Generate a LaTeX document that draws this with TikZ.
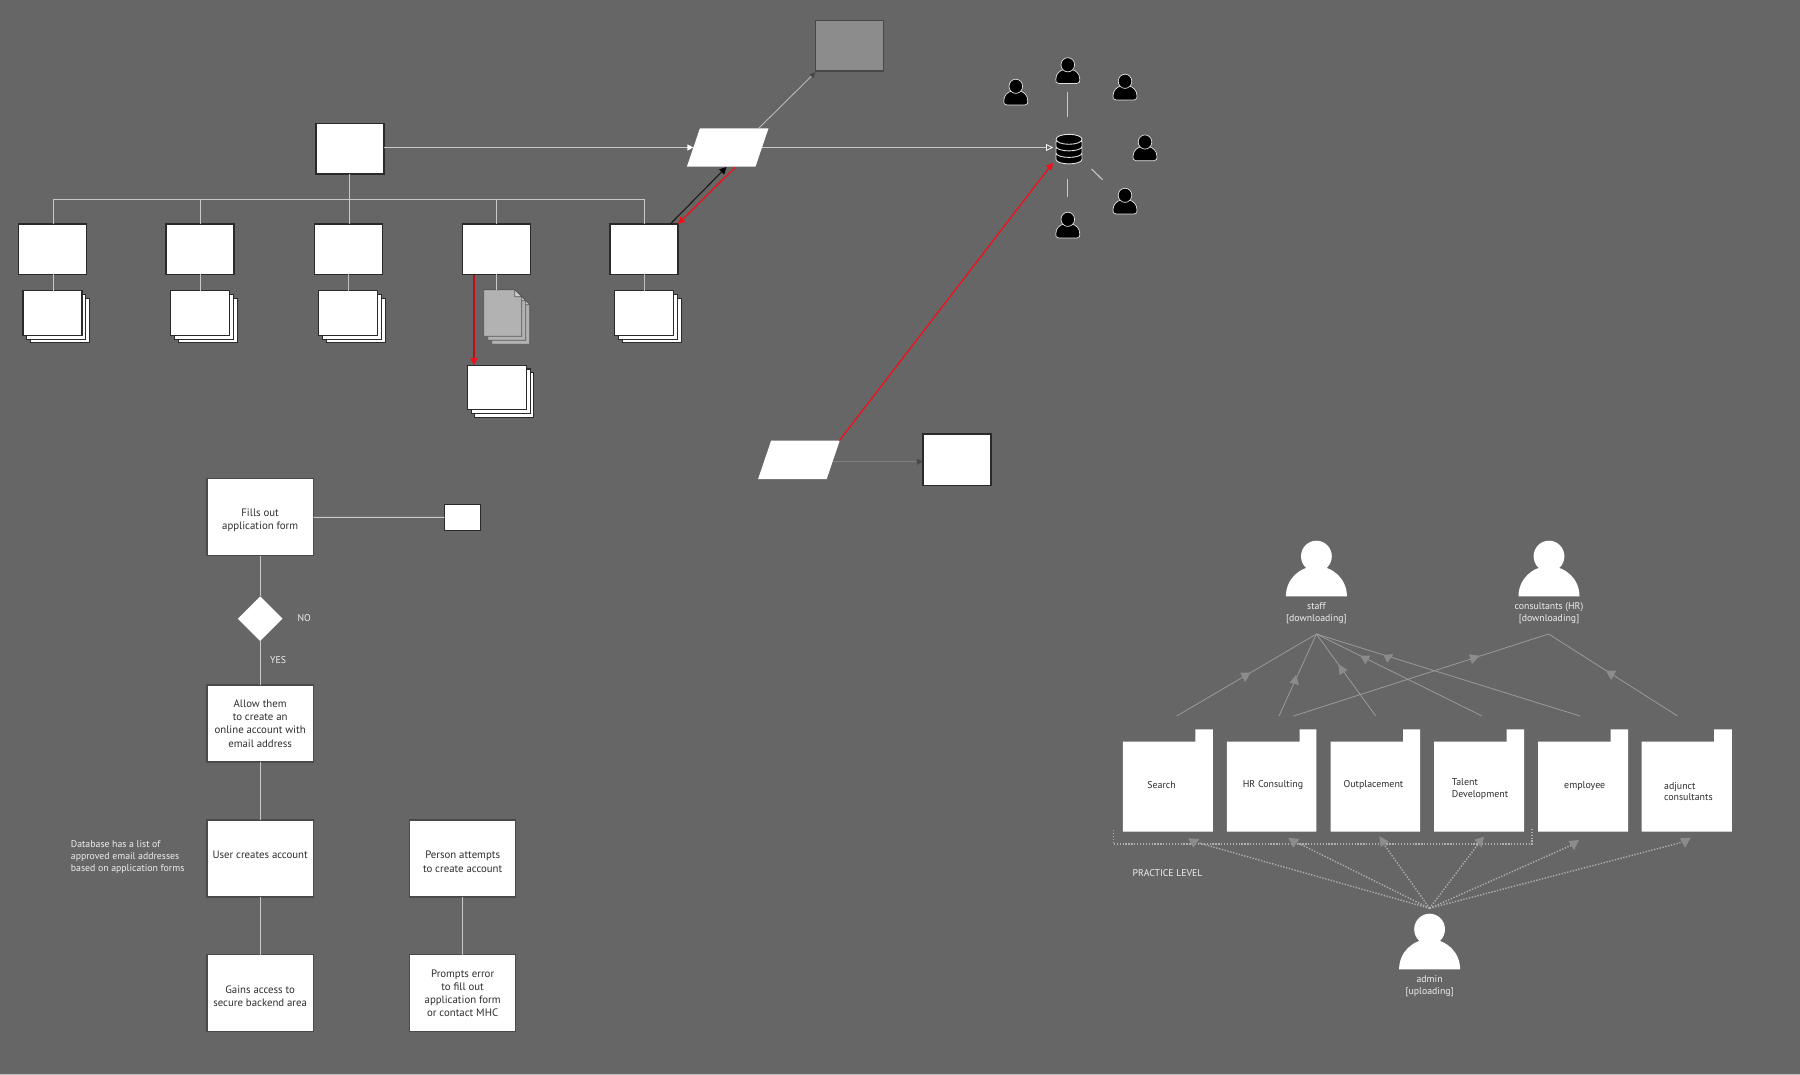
\documentclass[tikz,border=0pt]{standalone}
\usepackage{fontspec}
\setmainfont{PT Sans}
\usetikzlibrary{arrows.meta,shapes.geometric}
\definecolor{bgc}{HTML}{666666}
\definecolor{edgec}{HTML}{2A2A2A}
\definecolor{lnc}{HTML}{C8C8C8}
\definecolor{glc}{HTML}{9A9A9A}
\definecolor{hdc}{HTML}{8C8C8C}
\definecolor{dotc}{HTML}{B0B0B0}
\definecolor{txc}{HTML}{2E2E2E}
\definecolor{lblc}{HTML}{EEEEEE}
\definecolor{redc}{HTML}{F0101A}
\definecolor{docC}{HTML}{B2B2B2}
\definecolor{docedge}{HTML}{585858}
\definecolor{darktip}{HTML}{484848}
\definecolor{faintln}{HTML}{7E7E7E}
\definecolor{iconln}{HTML}{E0E0E0}
\tikzset{
  x=1pt,y=-1pt,
  plainbox/.style={draw=edgec,fill=white,line width=1.5pt,inner sep=0pt,outer sep=0pt,text=txc,align=center,font=\fontsize{10.8}{13.3}\selectfont},
  rowbox/.style={plainbox,minimum width=68pt,minimum height=50.5pt},
  flowbox/.style={plainbox,line width=1.2pt,draw=edgec!85!white,minimum width=106.3pt,minimum height=77pt},
  flowtext/.style={inner sep=0pt,text=txc,align=center,font=\fontsize{10.8}{13.3}\selectfont},
  pagebox/.style={plainbox,line width=1.1pt,minimum width=59pt,minimum height=44.6pt},
  conn/.style={draw=lnc,line width=1.1pt},
  redarrow/.style={draw=redc,line width=1.3pt,-{Triangle[length=7pt,width=7pt,fill=redc,color=redc]}},
  paranode/.style={inner sep=0pt,outer sep=0pt,minimum width=68.6pt,minimum height=38.4pt},
  lbl/.style={text=lblc,inner sep=0pt,align=center,font=\fontsize{9.8}{12}\selectfont},
  fldtext/.style={text=txc,inner sep=0pt,font=\fontsize{9.9}{11.8}\selectfont},
  upline/.style={draw=glc,line width=.8pt},
  dotline/.style={draw=dotc,line width=1.4pt,dash pattern=on 1.3pt off 1.6pt},
  smallperson/.pic={
    \draw[fill=black,draw=iconln,line width=.7pt] (-9,26) .. controls (-12,26) and (-12,24) .. (-12,22) .. controls (-12,16) and (-8,13) .. (-4,12) -- (4,12) .. controls (8,13) and (12,16) .. (12,22) .. controls (12,24) and (12,26) .. (9,26) -- cycle;
    \draw[fill=black,draw=iconln,line width=.7pt] (0,7.3) ellipse (6.8 and 7.1);
  },
  bigperson/.pic={
    \fill[white] (-30.5,0) .. controls (-30.5,-17) and (-17,-30) .. (0,-30) .. controls (17,-30) and (30.5,-17) .. (30.5,0) -- cycle;
    \fill[white] (0,-40) ellipse (15.4 and 15.6);
  },
  graydoc/.pic={
    \draw[fill=docC,draw=docedge,line width=.9pt] (0,0) -- (31,0) -- (38,7) -- (38,46.6) -- (0,46.6) -- cycle;
    \fill[black!20!white,draw=docedge,line width=.7pt] (31,0) -- (38,7) -- (31,7) -- cycle;
  },
}
\newcommand{\stackpages}[3]{%
  \node[pagebox] (#1c) at (#2+7.6,#3+7.6) {};
  \node[pagebox] (#1b) at (#2+3.8,#3+3.8) {};
  \node[pagebox] (#1) at (#2,#3) {};
}
\newcommand{\folderat}[2]{%
  \fill[white] (#1,741.7) -- (#1+72.6,741.7) -- (#1+72.6,729.3) -- (#2,729.3) -- (#2,831.3) -- (#1,831.3) -- cycle;
  \draw[draw=black!20!white,line width=.7pt] (#1,831.3) -- (#2,831.3);
}
\newcommand{\paraat}[3]{%
  \fill[white] (#2-27.8,#3-19.2) -- (#2+40.8,#3-19.2) -- (#2+27.8,#3+19.2) -- (#2-40.8,#3+19.2) -- cycle;
  \node[paranode] (#1) at (#2,#3) {};
}
\newcommand{\dbbands}{%
  \foreach \yy in {159.5,153,146.5}{
    \draw[fill=black,draw=iconln,line width=.9pt] (1056,\yy-5) -- (1056,\yy) arc[x radius=13,y radius=4.4,start angle=180,end angle=0] -- (1082,\yy-5) -- cycle;
  }
  \draw[fill=black,draw=iconln,line width=.9pt] (1069,139.3) ellipse (13 and 5);
}
\newcommand{\upl}[2]{%
  \coordinate (tmpa) at (#1,716);
  \draw[upline] (tmpa) -- (#2);
}
\newcommand{\headtri}[3]{\fill[hdc] (#1) -- (#2) -- (#3) -- cycle;}
\begin{document}
\begin{tikzpicture}
\useasboundingbox (0,0) rectangle (1800,1075);
\fill[bgc] (0,0) rectangle (1800,1075);
\fill[black!10!white!70!bgc] (0,1074) rectangle (1800,1075);

% --- top tree
\node[rowbox,minimum height=50.7pt] (top) at (349.75,148.65) {};
\node[rowbox] (b1) at (52.45,249.2) {};
\node[rowbox] (b2) at (200,249.2) {};
\node[rowbox] (b3) at (348.65,249.2) {};
\node[rowbox] (b4) at (496.3,249.2) {};
\node[rowbox] (b5) at (644.2,249.2) {};
\stackpages{s1}{52.5}{313}
\stackpages{s2}{200.15}{313}
\stackpages{s3}{348.25}{313}
\stackpages{s5}{644.2}{313}
\stackpages{s6}{496.8}{387.5}
\pic at (491.7,297.7) {graydoc};
\pic at (487.7,293.7) {graydoc};
\pic at (483.7,289.7) {graydoc};
\coordinate (gs) at (495.6,289.7);
\coordinate (bus1) at (53.6,199.7);
\draw[conn] (top.south -| 349.4,0) -- (b3.north -| 349.4,0);
\draw[conn] (b1.north -| bus1) -- (bus1) -- (bus1 -| b5.north) -- (b5.north);
\draw[conn,line width=.9pt] (b2.north |- bus1) -- (b2.north);
\draw[conn,line width=.9pt] (b4.north |- bus1) -- (b4.north);
\draw[conn,line width=.9pt] (b1.south -| bus1) -- (s1.north -| bus1);
\draw[conn,line width=.9pt] (b2.south) -- (s2.north -| b2.south);
\draw[conn,line width=1.3pt,draw=black!25!white] (b3.south) -- (s3.north -| b3.south);
\draw[conn,line width=.9pt] (b4.south) -- (b4.south |- gs);
\draw[conn,line width=1.3pt,draw=black!25!white] (b5.south) -- (s5.north);
\coordinate (ra) at (474,275.2);
\draw[draw=redc!80!black,line width=1.6pt,-{Triangle[length=7pt,width=7pt,fill=redc,color=redc]}] (ra) -- (ra |- s6.north);

% --- parallelogram, grey box, database
\paraat{pa}{727.7}{147.5}
\node[draw=darktip,fill=black!45!white,line width=1.2pt,minimum width=68pt,minimum height=50.7pt,inner sep=0pt,outer sep=0pt] (gb) at (849.6,45.65) {};
\node[minimum width=26pt,minimum height=30.5pt,inner sep=0pt,outer sep=0pt] (db) at (1069,148.7) {};
\dbbands
\coordinate (pg) at (758.7,128.3);
\coordinate (gbc) at (815.6,72);
\draw[draw=lnc!85!bgc,line width=.9pt,-{Triangle[length=6pt,width=5pt,fill=darktip,color=darktip]}] (pg) -- (gbc);
\draw[conn,-{Triangle[length=6pt,width=6pt,fill=white,color=white]}] (top.east |- pa.west) -- (pa.west);
\draw[conn,-{Triangle[length=7pt,width=7pt,fill=bgc,color=white,line width=.8pt]},shorten >=3pt] (pa.east) -- (pa.east -| db.west);
\coordinate (ba1) at (670.3,224);
\coordinate (ba2) at (726.5,167);
\draw[draw=black!90!white,line width=1.1pt,-{Triangle[length=7pt,width=7pt,fill=black,color=black]}] (ba1) -- (ba2);
\coordinate (rb1) at (735,167.5);
\coordinate (rb2) at (678,224);
\draw[redarrow] (rb1) -- (rb2);
% persons around the database
\pic at (1067.8,57.5) {smallperson};
\pic at (1015.8,79) {smallperson};
\pic at (1125,74) {smallperson};
\pic at (1145,134.7) {smallperson};
\pic at (1125,188) {smallperson};
\pic at (1067.8,212) {smallperson};
\coordinate (la1) at (1067.8,92.3);
\coordinate (la2) at (1067.8,117.3);
\coordinate (lb1) at (1067.8,178.7);
\coordinate (lb2) at (1067.8,196.7);
\coordinate (lc1) at (1091.6,169);
\coordinate (lc2) at (1102.5,179.7);
\draw[conn] (la1) -- (la2);
\draw[conn] (lb1) -- (lb2);
\draw[conn] (lc1) -- (lc2);

% --- second parallelogram
\paraat{pb}{798.9}{459.85}
\node[rowbox,minimum height=51.3pt] (bx) at (956.85,459.65) {};
\coordinate (pbr) at (839.3,440.7);
\coordinate (dbin) at (1053,162.7);
\draw[redarrow] (pbr) -- (dbin);
\coordinate (pbe) at (833,461.7);
\draw[draw=faintln,line width=1.1pt,-{Triangle[length=6pt,width=6pt,fill=darktip,color=darktip]}] (pbe) -- (bx.west |- pbe);

% --- flowchart
\node[flowbox] (f1) at (260.15,517.35) {};
\node[flowtext] (f1t) at (260.15,520.5) {Fills out\\application form};
\node[plainbox,line width=1.1pt,minimum width=35.6pt,minimum height=26pt] (f1s) at (462.5,517.3) {};
\node[diamond,fill=white,inner sep=0pt,outer sep=0pt,minimum width=44.6pt,minimum height=44.6pt] (d1) at (260.15,618.7) {};
\node[flowbox] (f2) at (260.15,723.5) {Allow them\\to create an\\online account with\\email address};
\node[flowbox] (f3) at (260.15,858.5) {};
\node[flowbox] (f4) at (260.15,993.2) {};
\node[flowbox] (f5) at (462.65,858.5) {};
\node[flowbox] (f6) at (462.65,993.2) {Prompts error\\to fill out\\application form\\or contact MHC};
\node[flowtext] (f3t) at (260.15,855) {User creates account};
\node[flowtext] (f4t) at (260.15,996.5) {Gains access to\\secure backend area};
\node[flowtext] (f5t) at (462.65,861.7) {Person attempts\\to create account};
\draw[conn] (f1.east) -- (f1s.west);
\draw[conn] (f1.south) -- (d1.north);
\draw[conn] (d1.south) -- (f2.north);
\draw[conn] (f2.south) -- (f3.north);
\draw[conn] (f3.south) -- (f4.north);
\draw[conn] (f5.south) -- (f6.north);
\node[lbl] (no) at (304.3,618) {NO};
\node[lbl] (yes) at (278,660) {YES};
\node[lbl,anchor=west,align=left] (note) at (70.7,856.7) {Database has a list of\\approved email addresses\\based on application forms};

% --- folders
\folderat{1122.8}{1212.8}
\folderat{1226.9}{1316.4}
\folderat{1330.5}{1420}
\folderat{1434}{1524}
\folderat{1538}{1628}
\folderat{1641.5}{1731.8}
\node[fldtext] (t1) at (1161.6,784.6) {Search};
\node[fldtext] (t2) at (1273,785) {HR Consulting};
\node[fldtext] (t3) at (1373.4,785) {Outplacement};
\node[fldtext,anchor=west,align=left] (t4) at (1451.6,788.8) {Talent\\Development};
\node[fldtext] (t5) at (1584.7,785.7) {employee};
\node[fldtext,anchor=west,align=left] (t6) at (1663.9,791.5) {adjunct\\consultants};

% --- people
\pic at (1316.4,596.3) {bigperson};
\pic at (1549,596.3) {bigperson};
\pic at (1429.6,969.3) {bigperson};
\node[lbl] (pstaff) at (1316.4,613.2) {staff\\{[downloading]}};
\node[lbl] (pcons) at (1549,613.2) {consultants (HR)\\{[downloading]}};
\node[lbl] (padm) at (1429.6,986.2) {admin\\{[uploading]}};
\node[lbl] (prac) at (1167.6,873.2) {PRACTICE LEVEL};

% --- upward connectors
\coordinate (ap1) at (1316.4,634);
\coordinate (ap2) at (1548.6,634);
\coordinate (ap3) at (1429.6,908.3);
\upl{1176.7}{ap1}
\upl{1279}{ap1}
\upl{1375.7}{ap1}
\upl{1482}{ap1}
\upl{1580}{ap1}
\upl{1293.6}{ap2}
\upl{1677.5}{ap2}
\headtri{1240.1,672.7}{1250.5,672.7}{1245.1,682.3}
\headtri{1296.1,675}{1289.5,682.7}{1299,685}
\headtri{1338.4,664}{1347.5,670}{1339.6,675}
\headtri{1360.4,655.7}{1370.3,655.7}{1365.3,664.3}
\headtri{1383.6,655}{1393.5,654}{1387.3,662.7}
\headtri{1469,654.3}{1479.8,655.7}{1471.9,664}
\headtri{1605.8,670.7}{1616.2,670.7}{1611.2,680}

% --- dotted connectors
\coordinate (dlA) at (1113.3,830);
\coordinate (dlB) at (1532,827.7);
\draw[dotline] (dlA) |- (dlB |- 0,844) -- (dlB);
\foreach \ex/\ey in {1199/843,1298/843,1383/843,1479/843,1572/845,1683/842}{
  \coordinate (dtip) at (\ex,\ey);
  \draw[dotline] (ap3) -- (dtip);
}
\headtri{1188.3,838.3}{1199.3,839}{1193.3,847.7}
\headtri{1288.3,837.7}{1299.3,839}{1293.3,847.7}
\headtri{1379.3,836}{1389,841.7}{1380.7,847}
\headtri{1484,836.7}{1474.3,839.7}{1481.7,847.7}
\headtri{1568.3,841}{1579,840}{1574,850}
\headtri{1680,838.3}{1690.7,837.7}{1685,847.7}
\end{tikzpicture}
\end{document}
